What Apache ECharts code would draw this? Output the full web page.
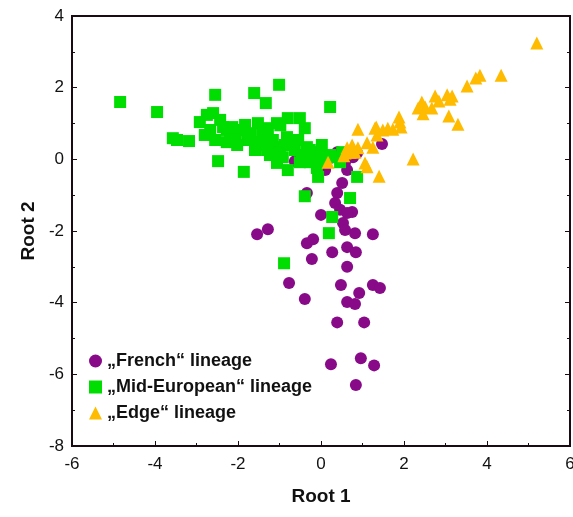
<!DOCTYPE html>
<html>
<head>
<meta charset="utf-8">
<script src="https://cdn.jsdelivr.net/npm/echarts@6/dist/echarts.min.js"></script>
<style>
  html, body { margin: 0; padding: 0; background: #fff; }
  #chart { width: 573px; height: 517px; }
</style>
</head>
<body>
<div id="chart"></div>
<script>
// discriminant scores: [Root 1, Root 2]
const frenchPoints = [
  [-0.63, -0.05], [0.10, -0.30], [0.63, -0.30], [0.51, -0.66], [-0.34, -0.94],
  [0.39, -0.94], [0.34, -1.22], [0.46, -1.41], [0.75, -1.47], [0.63, -1.50],
  [0.00, -1.55], [0.53, -1.78], [0.58, -1.97], [0.82, -2.06], [1.25, -2.09],
  [-1.54, -2.09], [-1.28, -1.95], [-0.34, -2.34], [-0.19, -2.23], [0.27, -2.59],
  [0.63, -2.45], [0.84, -2.59], [-0.22, -2.78], [0.63, -3.00], [-0.77, -3.45],
  [0.48, -3.51], [1.25, -3.51], [1.42, -3.59], [-0.39, -3.90], [0.92, -3.73],
  [0.63, -3.98], [0.82, -4.04], [0.39, -4.55], [1.04, -4.55], [0.24, -5.72],
  [0.96, -5.55], [1.28, -5.75], [0.84, -6.30], [0.39, 0.20], [0.77, 0.06],
  [0.87, 0.18], [1.47, 0.43], [0.22, 0.04], [0.58, -0.08]
];

const midEuropeanPoints = [
  [-4.84, 1.60], [-3.95, 1.32], [-3.57, 0.59], [-3.47, 0.54], [-3.18, 0.51],
  [-2.55, 1.80], [-2.48, -0.05], [-2.92, 1.04], [-2.75, 1.24], [-2.60, 1.29],
  [-2.67, 0.82], [-2.27, 0.82], [-2.27, 0.48], [-1.61, 1.85], [-1.01, 2.08],
  [-1.33, 1.57], [0.22, 1.46], [-1.86, -0.35], [-0.80, -0.30], [-0.07, -0.49],
  [-1.06, -0.10], [-1.52, 1.01], [-0.80, 1.15], [-0.51, 1.15], [-0.39, 0.87],
  [-1.06, 1.01], [-2.36, 0.90], [-2.19, 0.62], [-1.95, 0.82], [-1.78, 0.54],
  [-1.54, 0.48], [-1.28, 0.87], [-0.98, 0.95], [-1.11, 0.34], [-1.30, 0.26],
  [-0.99, 0.18], [-0.82, 0.62], [-0.92, 0.06], [-0.75, 0.46], [-0.34, 0.34],
  [-0.02, 0.20], [-0.10, -0.02], [-0.10, -0.24], [0.34, 0.06], [0.51, 0.20],
  [0.87, -0.49], [-1.16, 0.54], [0.70, -1.08], [-0.39, -1.03], [0.27, -1.61],
  [0.19, -2.06], [-0.89, -2.90], [-0.51, -0.08], [-0.27, -0.08], [0.46, -0.08],
  [-2.07, 0.68], [-1.71, 0.73], [-2.43, 1.10], [-2.02, 0.40], [-1.42, 0.68],
  [-0.63, 0.26], [-0.46, 0.12], [-0.22, 0.04], [0.10, -0.02], [0.22, 0.12],
  [-1.40, 0.40], [-1.83, 0.96], [-2.80, 0.68], [-2.55, 0.54], [-2.14, 0.90],
  [-1.23, 0.12], [-1.59, 0.26], [-0.87, 0.40], [-0.55, 0.54], [-0.27, 0.26],
  [0.02, 0.40]
];

const edgePoints = [
  [5.20, 3.25], [4.34, 2.35], [3.83, 2.35], [3.73, 2.27], [3.52, 2.05],
  [3.16, 1.77], [3.04, 1.80], [3.11, 1.68], [2.75, 1.77], [2.84, 1.63],
  [2.43, 1.60], [2.34, 1.43], [2.51, 1.46], [2.67, 1.43], [2.46, 1.27],
  [3.08, 1.21], [3.30, 0.98], [1.88, 1.18], [1.90, 1.04], [1.93, 0.90],
  [1.73, 0.84], [1.61, 0.87], [1.49, 0.82], [1.33, 0.90], [1.35, 0.68],
  [0.89, 0.84], [1.11, 0.46], [1.25, 0.34], [0.75, 0.40], [0.63, 0.32],
  [0.89, 0.32], [0.82, 0.20], [0.58, 0.18], [0.70, 0.20], [0.17, -0.08],
  [1.06, -0.10], [1.11, -0.21], [2.22, 0.01], [1.40, -0.47], [1.30, 0.87],
  [0.55, 0.10]
];

const seriesNames = ["\u201eFrench\u201c lineage", "\u201eMid-European\u201c lineage", "\u201eEdge\u201c lineage"];
const xRange = { min: -6, max: 6, interval: 2 };
const yRange = { min: -8, max: 4, interval: 2 };

const font = "'Liberation Sans', Arial, sans-serif";

function axisBase(range) {
  return {
    type: "value",
    min: range.min,
    max: range.max,
    interval: range.interval,
    splitLine: { show: false },
    axisLine: { show: true, onZero: false, lineStyle: { color: "#1a0a14", width: 2 } },
    axisTick: { show: true, inside: true, length: 5, lineStyle: { color: "#1a0a14" } },
    minorTick: { show: true, splitNumber: 2, length: 3, lineStyle: { color: "#1a0a14" } },
    axisLabel: { color: "#111", fontSize: 17, fontFamily: font }
  };
}

let xAxis = axisBase(xRange);
xAxis.name = "Root 1";
xAxis.nameLocation = "middle";
xAxis.nameGap = 41;
xAxis.nameTextStyle = { fontSize: 19, fontWeight: "bold", color: "#111", fontFamily: font };
xAxis.axisLabel.margin = 10;

let yAxis = axisBase(yRange);
yAxis.name = "Root 2";
yAxis.nameLocation = "middle";
yAxis.nameGap = 32;
yAxis.nameTextStyle = { fontSize: 19, fontWeight: "bold", color: "#111", fontFamily: font };
yAxis.axisLabel.margin = 8;

// mirror axis on the right, ticks only
let yAxisRight = axisBase(yRange);
yAxisRight.position = "right";
yAxisRight.axisLabel = { show: false };

let chart = echarts.init(document.getElementById("chart"), null, { renderer: "canvas" });
chart.setOption({
  animation: false,
  backgroundColor: "#fff",
  grid: {
    left: 72, right: 3, top: 16, bottom: 71,
    outerBoundsMode: "none",
    containLabel: false,
    show: true, borderColor: "#1a0a14", borderWidth: 2
  },
  legend: {
    orient: "vertical",
    left: 84,
    top: 347,
    itemGap: 8,
    itemWidth: 13,
    itemHeight: 13,
    textStyle: { fontSize: 18, fontWeight: "bold", color: "#111", fontFamily: font },
    data: [
      { name: seriesNames[0], icon: "circle" },
      { name: seriesNames[1], icon: "rect" },
      { name: seriesNames[2], icon: "triangle" }
    ]
  },
  xAxis: xAxis,
  yAxis: [yAxis, yAxisRight],
  series: [
    {
      name: seriesNames[0], type: "scatter", symbol: "circle", symbolSize: 12,
      itemStyle: { color: "#880a88", opacity: 1 }, data: frenchPoints
    },
    {
      name: seriesNames[1], type: "scatter", symbol: "rect", symbolSize: 12,
      itemStyle: { color: "#00dd00", opacity: 1 }, data: midEuropeanPoints
    },
    {
      name: seriesNames[2], type: "scatter", symbol: "triangle", symbolSize: 13,
      itemStyle: { color: "#ffbb00", opacity: 1 }, data: edgePoints
    }
  ]
});
</script>
</body>
</html>
